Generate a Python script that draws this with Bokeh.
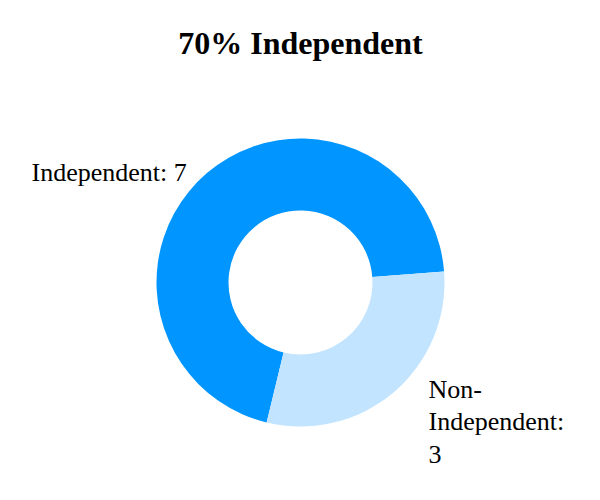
import math
from bokeh.plotting import figure
from bokeh.models import Range1d, Label, ColumnDataSource
from bokeh.embed import file_html
from bokeh.resources import INLINE

# Data
categories = ["Independent", "Non-Independent"]
values = [7, 3]
colors = ["#0095FF", "#C2E4FF"]
label_texts = ["Independent: 7", "Non-\nIndependent:\n3"]
title_text = "70% Independent"

W, H = 584, 484
p = figure(width=W, height=H, output_backend="svg", toolbar_location=None,
           x_range=Range1d(0, W), y_range=Range1d(500 - H, 500),
           min_border=0, outline_line_color=None)
p.axis.visible = False
p.grid.visible = False
p.background_fill_color = "white"
p.border_fill_color = "white"

total = sum(values)
start_deg = 4.4
starts, ends = [], []
acc = start_deg
for v in values:
    starts.append(math.radians(acc))
    acc += 360.0 * v / total
    ends.append(math.radians(acc))

cx, cy = 300, 500 - 282
src = ColumnDataSource(dict(cat=categories, val=values, color=colors,
                            start=starts, end=ends))
p.annular_wedge(x=cx, y=cy, inner_radius=72, outer_radius=144,
                inner_radius_units="screen", outer_radius_units="screen",
                start_angle="start", end_angle="end",
                fill_color="color", line_color=None,
                source=src)

p.add_layout(Label(x=300, y=500 - 42, text=title_text,
                   text_font="Liberation Serif", text_font_style="bold",
                   text_font_size="32px", text_align="center",
                   text_baseline="alphabetic", text_color="black"))

p.add_layout(Label(x=31, y=500 - 172, text=label_texts[0],
                   text_font="Liberation Serif", text_font_size="26px",
                   text_align="left", text_baseline="alphabetic",
                   text_color="black"))

p.add_layout(Label(x=428, y=500 - 394, text=label_texts[1],
                   text_font="Liberation Serif", text_font_size="26px",
                   text_align="left", text_baseline="top",
                   text_line_height=1.13,
                   text_color="black", y_offset=20))

open("out.html", "w").write(file_html(p, INLINE))
